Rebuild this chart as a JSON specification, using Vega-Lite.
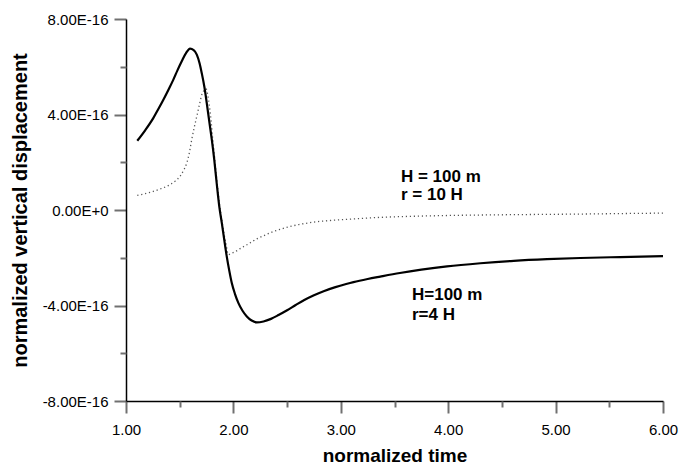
{
  "$schema": "https://vega.github.io/schema/vega-lite/v6.json",
  "width": 537,
  "height": 382,
  "autosize": {"type": "none"},
  "padding": {"left": 126, "top": 19, "right": 17, "bottom": 65},
  "background": "white",
  "config": {
    "view": {"stroke": null},
    "font": "Liberation Sans",
    "axis": {
      "labelFontSize": 15,
      "labelColor": "black",
      "labelFont": "Liberation Sans",
      "tickColor": "#707070",
      "tickWidth": 2,
      "domainColor": "black",
      "domainWidth": 1.5,
      "titleFont": "Liberation Sans",
      "titleFontSize": 20,
      "titleFontWeight": "bold",
      "titleColor": "black",
      "grid": false,
      "labelFlush": false,
      "labelOverlap": false
    }
  },
  "datasets": {
    "curves": [
      {"t": 1.105, "v": 2.90e-16, "series": "r=4H"},
      {"t": 1.18, "v": 3.35e-16, "series": "r=4H"},
      {"t": 1.254, "v": 3.85e-16, "series": "r=4H"},
      {"t": 1.30, "v": 4.22e-16, "series": "r=4H"},
      {"t": 1.348, "v": 4.62e-16, "series": "r=4H"},
      {"t": 1.40, "v": 5.08e-16, "series": "r=4H"},
      {"t": 1.441, "v": 5.46e-16, "series": "r=4H"},
      {"t": 1.48, "v": 5.86e-16, "series": "r=4H"},
      {"t": 1.519, "v": 6.23e-16, "series": "r=4H"},
      {"t": 1.56, "v": 6.58e-16, "series": "r=4H"},
      {"t": 1.596, "v": 6.76e-16, "series": "r=4H"},
      {"t": 1.63, "v": 6.70e-16, "series": "r=4H"},
      {"t": 1.659, "v": 6.51e-16, "series": "r=4H"},
      {"t": 1.685, "v": 6.15e-16, "series": "r=4H"},
      {"t": 1.705, "v": 5.74e-16, "series": "r=4H"},
      {"t": 1.73, "v": 5.15e-16, "series": "r=4H"},
      {"t": 1.752, "v": 4.48e-16, "series": "r=4H"},
      {"t": 1.775, "v": 3.72e-16, "series": "r=4H"},
      {"t": 1.799, "v": 2.95e-16, "series": "r=4H"},
      {"t": 1.822, "v": 2.10e-16, "series": "r=4H"},
      {"t": 1.845, "v": 1.10e-16, "series": "r=4H"},
      {"t": 1.87, "v": 0.10e-16, "series": "r=4H"},
      {"t": 1.892, "v": -0.54e-16, "series": "r=4H"},
      {"t": 1.915, "v": -1.25e-16, "series": "r=4H"},
      {"t": 1.938, "v": -1.94e-16, "series": "r=4H"},
      {"t": 1.962, "v": -2.55e-16, "series": "r=4H"},
      {"t": 1.985, "v": -3.06e-16, "series": "r=4H"},
      {"t": 2.015, "v": -3.52e-16, "series": "r=4H"},
      {"t": 2.047, "v": -3.90e-16, "series": "r=4H"},
      {"t": 2.085, "v": -4.22e-16, "series": "r=4H"},
      {"t": 2.125, "v": -4.46e-16, "series": "r=4H"},
      {"t": 2.17, "v": -4.63e-16, "series": "r=4H"},
      {"t": 2.218, "v": -4.71e-16, "series": "r=4H"},
      {"t": 2.28, "v": -4.67e-16, "series": "r=4H"},
      {"t": 2.35, "v": -4.56e-16, "series": "r=4H"},
      {"t": 2.42, "v": -4.40e-16, "series": "r=4H"},
      {"t": 2.50, "v": -4.20e-16, "series": "r=4H"},
      {"t": 2.58, "v": -3.98e-16, "series": "r=4H"},
      {"t": 2.66, "v": -3.77e-16, "series": "r=4H"},
      {"t": 2.75, "v": -3.57e-16, "series": "r=4H"},
      {"t": 2.84, "v": -3.40e-16, "series": "r=4H"},
      {"t": 2.95, "v": -3.23e-16, "series": "r=4H"},
      {"t": 3.05, "v": -3.10e-16, "series": "r=4H"},
      {"t": 3.118, "v": -3.02e-16, "series": "r=4H"},
      {"t": 3.25, "v": -2.89e-16, "series": "r=4H"},
      {"t": 3.367, "v": -2.79e-16, "series": "r=4H"},
      {"t": 3.55, "v": -2.64e-16, "series": "r=4H"},
      {"t": 3.75, "v": -2.50e-16, "series": "r=4H"},
      {"t": 3.989, "v": -2.36e-16, "series": "r=4H"},
      {"t": 4.30, "v": -2.23e-16, "series": "r=4H"},
      {"t": 4.61, "v": -2.13e-16, "series": "r=4H"},
      {"t": 4.92, "v": -2.06e-16, "series": "r=4H"},
      {"t": 5.231, "v": -2.01e-16, "series": "r=4H"},
      {"t": 5.6, "v": -1.97e-16, "series": "r=4H"},
      {"t": 6.0, "v": -1.93e-16, "series": "r=4H"},
      {"t": 1.105, "v": 0.61e-16, "series": "r=10H"},
      {"t": 1.18, "v": 0.69e-16, "series": "r=10H"},
      {"t": 1.254, "v": 0.78e-16, "series": "r=10H"},
      {"t": 1.33, "v": 0.90e-16, "series": "r=10H"},
      {"t": 1.41, "v": 1.06e-16, "series": "r=10H"},
      {"t": 1.46, "v": 1.22e-16, "series": "r=10H"},
      {"t": 1.503, "v": 1.41e-16, "series": "r=10H"},
      {"t": 1.535, "v": 1.65e-16, "series": "r=10H"},
      {"t": 1.566, "v": 1.97e-16, "series": "r=10H"},
      {"t": 1.59, "v": 2.40e-16, "series": "r=10H"},
      {"t": 1.612, "v": 2.95e-16, "series": "r=10H"},
      {"t": 1.635, "v": 3.45e-16, "series": "r=10H"},
      {"t": 1.659, "v": 3.92e-16, "series": "r=10H"},
      {"t": 1.683, "v": 4.40e-16, "series": "r=10H"},
      {"t": 1.706, "v": 4.83e-16, "series": "r=10H"},
      {"t": 1.728, "v": 5.02e-16, "series": "r=10H"},
      {"t": 1.746, "v": 5.07e-16, "series": "r=10H"},
      {"t": 1.762, "v": 4.80e-16, "series": "r=10H"},
      {"t": 1.777, "v": 4.34e-16, "series": "r=10H"},
      {"t": 1.793, "v": 3.70e-16, "series": "r=10H"},
      {"t": 1.808, "v": 2.95e-16, "series": "r=10H"},
      {"t": 1.825, "v": 2.20e-16, "series": "r=10H"},
      {"t": 1.84, "v": 1.50e-16, "series": "r=10H"},
      {"t": 1.855, "v": 0.85e-16, "series": "r=10H"},
      {"t": 1.87, "v": 0.25e-16, "series": "r=10H"},
      {"t": 1.888, "v": -0.30e-16, "series": "r=10H"},
      {"t": 1.906, "v": -0.83e-16, "series": "r=10H"},
      {"t": 1.93, "v": -1.40e-16, "series": "r=10H"},
      {"t": 1.953, "v": -1.87e-16, "series": "r=10H"},
      {"t": 1.98, "v": -1.82e-16, "series": "r=10H"},
      {"t": 2.02, "v": -1.74e-16, "series": "r=10H"},
      {"t": 2.062, "v": -1.62e-16, "series": "r=10H"},
      {"t": 2.14, "v": -1.42e-16, "series": "r=10H"},
      {"t": 2.218, "v": -1.21e-16, "series": "r=10H"},
      {"t": 2.30, "v": -1.04e-16, "series": "r=10H"},
      {"t": 2.373, "v": -0.90e-16, "series": "r=10H"},
      {"t": 2.45, "v": -0.79e-16, "series": "r=10H"},
      {"t": 2.528, "v": -0.69e-16, "series": "r=10H"},
      {"t": 2.61, "v": -0.61e-16, "series": "r=10H"},
      {"t": 2.699, "v": -0.54e-16, "series": "r=10H"},
      {"t": 2.80, "v": -0.48e-16, "series": "r=10H"},
      {"t": 2.901, "v": -0.44e-16, "series": "r=10H"},
      {"t": 3.10, "v": -0.38e-16, "series": "r=10H"},
      {"t": 3.367, "v": -0.31e-16, "series": "r=10H"},
      {"t": 3.70, "v": -0.26e-16, "series": "r=10H"},
      {"t": 4.0, "v": -0.23e-16, "series": "r=10H"},
      {"t": 4.5, "v": -0.20e-16, "series": "r=10H"},
      {"t": 5.0, "v": -0.18e-16, "series": "r=10H"},
      {"t": 5.231, "v": -0.17e-16, "series": "r=10H"},
      {"t": 5.6, "v": -0.15e-16, "series": "r=10H"},
      {"t": 6.0, "v": -0.13e-16, "series": "r=10H"}
    ],
    "notes": [
      {"t": 3.56, "v": 1.17e-16, "label": "H = 100 m"},
      {"t": 3.56, "v": 0.40e-16, "label": "r = 10 H"},
      {"t": 3.663, "v": -3.79e-16, "label": "H=100 m"},
      {"t": 3.663, "v": -4.60e-16, "label": "r=4 H"}
    ]
  },
  "resolve": {"axis": {"x": "independent", "y": "independent"}},
  "layer": [
    {
      "data": {"name": "curves"},
      "transform": [{"filter": "datum.series == 'r=10H'"}],
      "mark": {"type": "line", "color": "#555555", "strokeWidth": 1.3, "strokeDash": [1.2, 2.8], "interpolate": "monotone"},
      "encoding": {
        "x": {
          "field": "t", "type": "quantitative",
          "scale": {"domain": [1, 6], "nice": false, "zero": false},
          "axis": {
            "orient": "bottom",
            "title": "normalized time",
            "values": [1, 2, 3, 4, 5, 6],
            "format": ".2f",
            "tickSize": 12,
            "labelPadding": 9,
            "titleFontSize": 19,
            "titlePadding": 9
          }
        },
        "y": {
          "field": "v", "type": "quantitative",
          "scale": {"domain": [-8e-16, 8e-16], "nice": false, "zero": false},
          "axis": {
            "orient": "left",
            "title": "normalized vertical displacement",
            "values": [-8e-16, -4e-16, 0, 4e-16, 8e-16],
            "labelExpr": "replace(replace(format(datum.value, '.2e'), 'e', 'E'), '\u2212', '-')",
            "tickSize": 12,
            "labelPadding": 6,
            "titlePadding": 12
          }
        }
      }
    },
    {
      "data": {"name": "curves"},
      "transform": [{"filter": "datum.series == 'r=4H'"}],
      "mark": {"type": "line", "color": "black", "strokeWidth": 2.2, "interpolate": "monotone"},
      "encoding": {
        "x": {
          "field": "t", "type": "quantitative",
          "axis": {"orient": "bottom", "values": [1.5, 2.5, 3.5, 4.5, 5.5], "labels": false, "domain": false, "title": null, "tickSize": 6}
        },
        "y": {
          "field": "v", "type": "quantitative",
          "axis": {"orient": "left", "values": [-6e-16, -2e-16, 2e-16, 6e-16], "labels": false, "domain": false, "title": null, "tickSize": 6}
        }
      }
    },
    {
      "data": {"name": "notes"},
      "mark": {"type": "text", "align": "left", "baseline": "alphabetic", "fontSize": 17, "fontWeight": "bold", "color": "black"},
      "encoding": {
        "x": {"field": "t", "type": "quantitative", "axis": null},
        "y": {"field": "v", "type": "quantitative", "axis": null},
        "text": {"field": "label"}
      }
    }
  ]
}
